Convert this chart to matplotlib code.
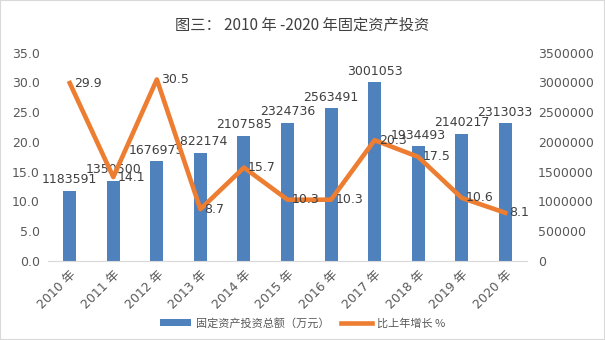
import matplotlib.pyplot as plt
from matplotlib.patches import Rectangle
from matplotlib.ticker import FuncFormatter

years = ["2010 年", "2011 年", "2012 年", "2013 年", "2014 年", "2015 年",
         "2016 年", "2017 年", "2018 年", "2019 年", "2020 年"]
invest = [1183591, 1350500, 1676975, 1822174, 2107585, 2324736,
          2563491, 3001053, 1934493, 2140217, 2313033]
growth = [29.9, 14.1, 30.5, 8.7, 15.7, 10.3, 10.3, 20.3, 17.5, 10.6, 8.1]

BLUE = "#4F81BD"
ORANGE = "#ED7D31"
GREY = "#595959"
DARK = "#404040"

plt.rcParams["font.family"] = ["DejaVu Sans", "Noto Sans CJK SC"]
plt.rcParams["font.size"] = 9


def main():
    fig = plt.figure(figsize=(6.05, 3.4), dpi=100)
    fig.patches.append(Rectangle((0, 0), 1, 1, transform=fig.transFigure,
                                 fill=False, edgecolor="#D9D9D9", lw=1.5))

    ax = fig.add_axes([0.0793, 0.2324, 0.7918, 0.6126])
    ax2 = ax.twinx()
    x = list(range(len(years)))

    # bars on the right scale
    ax.bar(x, invest, width=0.3, color=BLUE, label="固定资产投资总额（万元）", zorder=2)
    ax.set_ylim(0, 3500000)
    ax.set_yticks(range(0, 3500001, 500000))
    ax.yaxis.set_major_formatter(FuncFormatter(lambda v, p: f"{int(v)}"))
    ax.yaxis.tick_right()
    ax.tick_params(axis="y", length=0, pad=8, colors=GREY, labelsize=9)
    for xi, v in zip(x, invest):
        ax.annotate(str(v), (xi, v), xytext=(0, 3), textcoords="offset points",
                    ha="center", va="bottom", color=DARK, fontsize=9, zorder=5)

    ax.set_xlim(-0.5, len(years) - 0.5)
    ax.set_xticks(x)
    ax.set_xticklabels(years, rotation=45, ha="right", rotation_mode="anchor")
    ax.tick_params(axis="x", length=0, pad=5, colors=GREY, labelsize=9)
    for s in ["top", "left", "right"]:
        ax.spines[s].set_visible(False)
    ax.spines["bottom"].set_color("#D9D9D9")

    # growth line on the left scale
    ax2.plot(x, growth, color=ORANGE, lw=3.3, label="比上年增长 %", zorder=3)
    ax2.set_ylim(0, 35)
    ax2.set_yticks(range(0, 36, 5))
    ax2.yaxis.set_major_formatter(FuncFormatter(lambda v, p: f"{v:.1f}"))
    ax2.yaxis.tick_left()
    ax2.tick_params(axis="y", length=0, pad=6, colors=GREY, labelsize=9)
    for s in ["top", "left", "right", "bottom"]:
        ax2.spines[s].set_visible(False)
    for xi, v in zip(x, growth):
        ax2.annotate(f"{v}", (xi, v), xytext=(3, 0), textcoords="offset points",
                     ha="left", va="center", color=DARK, fontsize=9, zorder=5)

    fig.text(0.5, 1 - 25 / 340, "图三： 2010 年 -2020 年固定资产投资",
             ha="center", va="center", fontsize=11, color=DARK,
             family=["Noto Sans CJK SC", "DejaVu Sans"])

    h1, l1 = ax.get_legend_handles_labels()
    h2, l2 = ax2.get_legend_handles_labels()
    fig.legend(h1 + h2, l1 + l2, loc="center", bbox_to_anchor=(0.5, 17 / 340),
               ncol=2, frameon=False, handlelength=2.8,
               handletextpad=0.4, columnspacing=1.1, labelcolor=GREY,
               prop={"family": ["Noto Sans CJK SC", "DejaVu Sans"], "size": 8})

    fig.savefig("out.png", dpi=100)


if __name__ == "__main__":
    main()
